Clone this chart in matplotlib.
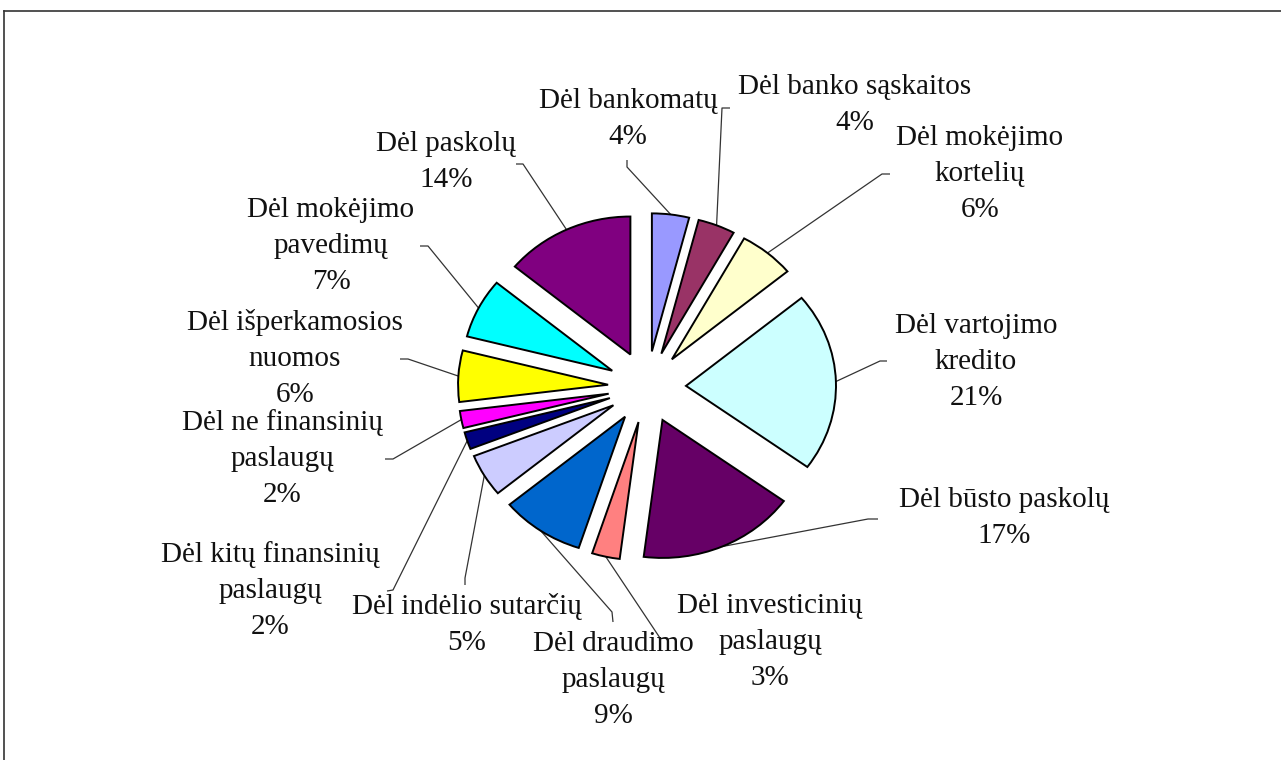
import matplotlib
matplotlib.use("Agg")
import matplotlib.pyplot as plt
from matplotlib.lines import Line2D
import numpy as np

# Complaint topics and their shares (%), clockwise from 12 o'clock
categories = [
    "Dėl bankomatų",
    "Dėl banko sąskaitos",
    "Dėl mokėjimo\nkortelių",
    "Dėl vartojimo\nkredito",
    "Dėl būsto paskolų",
    "Dėl investicinių\npaslaugų",
    "Dėl draudimo\npaslaugų",
    "Dėl indėlio sutarčių",
    "Dėl kitų finansinių\npaslaugų",
    "Dėl ne finansinių\npaslaugų",
    "Dėl išperkamosios\nnuomos",
    "Dėl mokėjimo\npavedimų",
    "Dėl paskolų",
]
shares = [4, 4, 6, 21, 17, 3, 9, 5, 2, 2, 6, 7, 14]
colors = [
    "#9999FF", "#993366", "#FFFFCC", "#CCFFFF", "#660066", "#FF8080",
    "#0066CC", "#CCCCFF", "#000080", "#FF00FF", "#FFFF00", "#00FFFF",
    "#800080",
]

# Layout (pixels, origin top-left)
W, H = 1281, 760
CX, CY, RX, RY = 647, 387, 150, 138
label_centers = [
    (628, 119), (855, 105), (980, 174), (976, 362), (1004, 518),
    (770, 642), (613, 680), (467, 625), (270, 591), (282, 459),
    (295, 358), (331, 246), (446, 162),
]
leader_bends = [
    ((627, 167), (627, 160)),
    ((722, 108), (730, 108)),
    ((882, 174), (890, 174)),
    ((880, 361), (887, 361)),
    ((868, 519), (878, 519)),
    ((660, 638), (660, 638)),
    ((612, 612), (613, 622)),
    ((465, 578), (465, 585)),
    ((393, 590), (387, 591)),
    ((393, 459), (385, 459)),
    ((408, 359), (400, 359)),
    ((428, 246), (420, 246)),
    ((523, 164), (516, 164)),
]


def to_data(px, py):
    return (px - CX) / RX, (CY - py) / RY


fig = plt.figure(figsize=(W / 100, H / 100), dpi=100)
ax = fig.add_axes([0, 0, 1, 1])

wedges, _ = ax.pie(
    shares,
    colors=colors,
    startangle=90,
    counterclock=False,
    explode=[0.26] * len(shares),
    radius=1.0,
    wedgeprops=dict(edgecolor="black", linewidth=1.4),
)
ax.set_aspect("auto")
ax.set_xlim(-CX / RX, (W - CX) / RX)
ax.set_ylim((CY - H) / RY, CY / RY)
ax.axis("off")

for w, name, val, (lx, ly), (bend, tip) in zip(
    wedges, categories, shares, label_centers, leader_bends
):
    mid = np.deg2rad((w.theta1 + w.theta2) / 2)
    ax0 = w.center[0] + w.r * np.cos(mid)
    ay0 = w.center[1] + w.r * np.sin(mid)
    bx, by = to_data(*bend)
    tx, ty = to_data(*tip)
    ax.plot([ax0, bx, tx], [ay0, by, ty], color="#333333", lw=0.9,
            solid_capstyle="butt", zorder=0)
    x, y = to_data(lx, ly)
    ax.text(x, y, f"{name}\n{val}%", ha="center", va="center",
            multialignment="center", fontsize=21, family="Liberation Serif",
            color="#111111", linespacing=1.5)

# Page frame
fig.add_artist(Line2D([4 / W, 4 / W], [0, 1 - 11 / H], transform=fig.transFigure,
                      color="#333333", lw=1.2))
fig.add_artist(Line2D([4 / W, 1], [1 - 11 / H, 1 - 11 / H], transform=fig.transFigure,
                      color="#333333", lw=1.2))

fig.savefig("out.png", dpi=100, facecolor="white")
